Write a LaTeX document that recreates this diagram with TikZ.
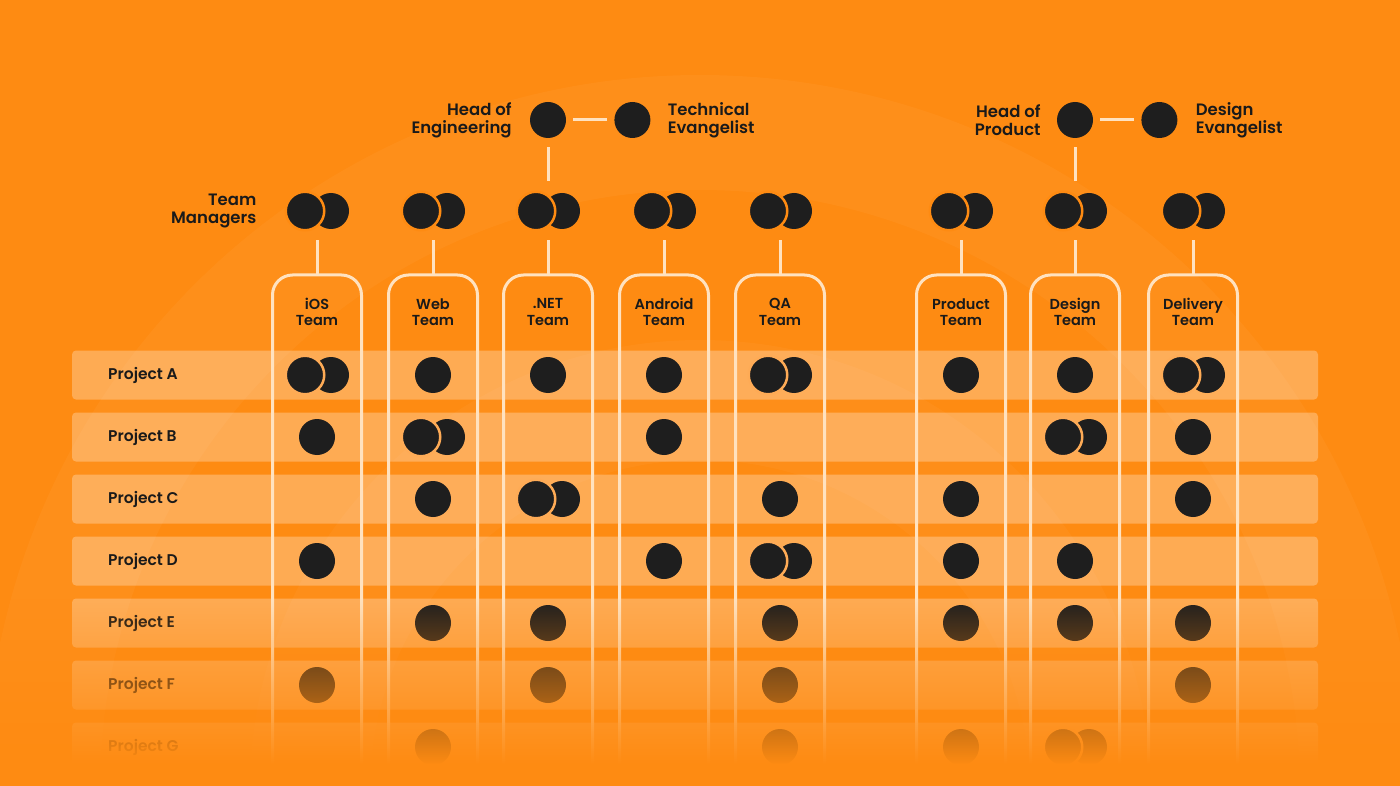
\documentclass[tikz,border=0pt]{standalone}
\usepackage{fontspec}
\setmainfont{Poppins}[UprightFont=* SemiBold,BoldFont=* Bold]
\usetikzlibrary{calc,fadings,positioning}
\definecolor{bgorange}{RGB}{254,139,18}
\definecolor{bandorange}{RGB}{254,171,86}
\definecolor{dotgray}{RGB}{30,30,30}
\definecolor{linecream}{RGB}{255,226,192}
\definecolor{inkgray}{RGB}{26,26,26}
\tikzfading[name=fade to bg,top color=transparent!100,bottom color=transparent!0]
\newcommand{\soloseat}[2]{\node[member] (#1-#2) at (col-#1 |- row-#2) {};}
\newcommand{\pairseat}[3]{%
  \node[member] (#1-#2-b) at ($(col-#1 |- row-#2)+(14,0)$) {};
  \node[lead member=#3] (#1-#2) at ($(col-#1 |- row-#2)+(-12,0)$) {};}
\tikzset{
  member/.style={circle,fill=dotgray,minimum size=36pt,inner sep=0pt},
  lead member/.style={member,draw=#1,line width=2.5pt,minimum size=38.5pt},
  pair box/.style={circle,minimum size=36pt,inner sep=0pt},
  link/.style={draw=linecream,line width=3pt},
  lane/.style={draw=linecream,line width=3pt,rounded corners=20pt},
  project band/.style={fill=white,fill opacity=.28,rounded corners=4pt},
  role label/.style={font=\fontsize{16.5}{18}\selectfont,text=inkgray,inner sep=0pt},
  team label/.style={font=\fontsize{14.5}{16.5}\selectfont,text=inkgray,
    inner sep=0pt,align=center},
  project label/.style={font=\fontsize{15.5}{18}\selectfont,text=inkgray,
    inner sep=0pt,anchor=west},
}

\begin{document}
\begin{tikzpicture}[x=1pt,y=-1pt]
  \useasboundingbox (0,0) rectangle (1400,786);
  \clip (0,0) rectangle (1400,786);
  % background with faint rings
  \fill[bgorange] (0,0) rectangle (1400,786);
  \fill[white,opacity=.035,even odd rule] (700,790) circle[radius=715]
    (700,790) circle[radius=600];
  \fill[white,opacity=.03,even odd rule] (700,790) circle[radius=450]
    (700,790) circle[radius=330];

  % grid anchors
  \foreach \name/\x in {ios/317,web/433,net/548,and/664,qa/780,prod/961,
    des/1075,del/1193}
    \coordinate (col-\name) at (\x,0);

  % project rows
  \foreach \name/\y/\label in {a/375/A,b/437/B,c/499/C,d/561/D,e/623/E,
    f/685/F,g/747/G} {
    \coordinate (row-\name) at (0,\y);
    \fill[project band] (72,\y-24.5) rectangle (1318,\y+24.5);
    \node[project label] (lab-\name) at (108,\y) {Project \label};
  }

  % team lanes and their managers
  \foreach \name/\x/\title in {ios/317/iOS,web/433/Web,net/548/.NET,
    and/664/Android,qa/780/QA,prod/961/Product,des/1075/Design,
    del/1193/Delivery} {
    \draw[lane] (\x-44.5,800) -- (\x-44.5,275) -- (\x+44.5,275)
      -- (\x+44.5,800);
    \coordinate (top-\name) at (\x,275);
    \node[team label] (title-\name) at (\x,312) {\title\\Team};
    \node[member] (mr-\name) at (\x+14,211) {};
    \node[lead member=bgorange] (ml-\name) at (\x-12,211) {};
    \node[pair box] (mgr-\name) at (\x,211) {};
    \draw[link,shorten <=11pt] (mgr-\name) -- (top-\name);
  }
  \node[role label,align=right,left=28pt of ml-ios] (mgrlabel)
    {Team\\Managers};

  % heads
  \node[member] (heng) at (548,120) {};
  \node[member,right=48pt of heng] (tevang) {};
  \node[role label,align=right,left=18pt of heng] (henglabel)
    {Head of\\Engineering};
  \node[role label,align=left,right=17pt of tevang] (tevanglabel)
    {Technical\\Evangelist};
  \draw[link,shorten <=7pt,shorten >=7pt] (heng) -- (tevang);
  \draw[link,shorten <=9pt,shorten >=12pt] (heng) -- (mgr-net);

  \node[member] (hprod) at (1075,120) {};
  \node[member,right=48pt of hprod] (devang) {};
  \node[role label,align=right,left=16pt of hprod] (hprodlabel)
    {Head of\\Product};
  \node[role label,align=left,right=18pt of devang] (devanglabel)
    {Design\\Evangelist};
  \draw[link,shorten <=7pt,shorten >=7pt] (hprod) -- (devang);
  \draw[link,shorten <=9pt,shorten >=12pt] (hprod) -- (mgr-des);

  % who works on what (1 = member, 2 = member and manager)
  \foreach \r/\cells in {
    a/{ios/2,web/1,net/1,and/1,qa/2,prod/1,des/1,del/2},
    b/{ios/1,web/2,and/1,des/2,del/1},
    c/{web/1,net/2,qa/1,prod/1,del/1},
    d/{ios/1,and/1,qa/2,prod/1,des/1},
    e/{web/1,net/1,qa/1,prod/1,des/1,del/1},
    f/{ios/1,net/1,qa/1,del/1},
    g/{web/1,qa/1,prod/1,des/2}}
    \foreach \c/\k in \cells {
      \ifnum\k=2 \pairseat{\c}{\r}{bandorange}\else\soloseat{\c}{\r}\fi
    };

  % fade the lower rows into the background
  \fill[bgorange,path fading=fade to bg] (0,598) rectangle (1400,764);
  \fill[bgorange] (0,763.5) rectangle (1400,786);
\end{tikzpicture}
\end{document}
